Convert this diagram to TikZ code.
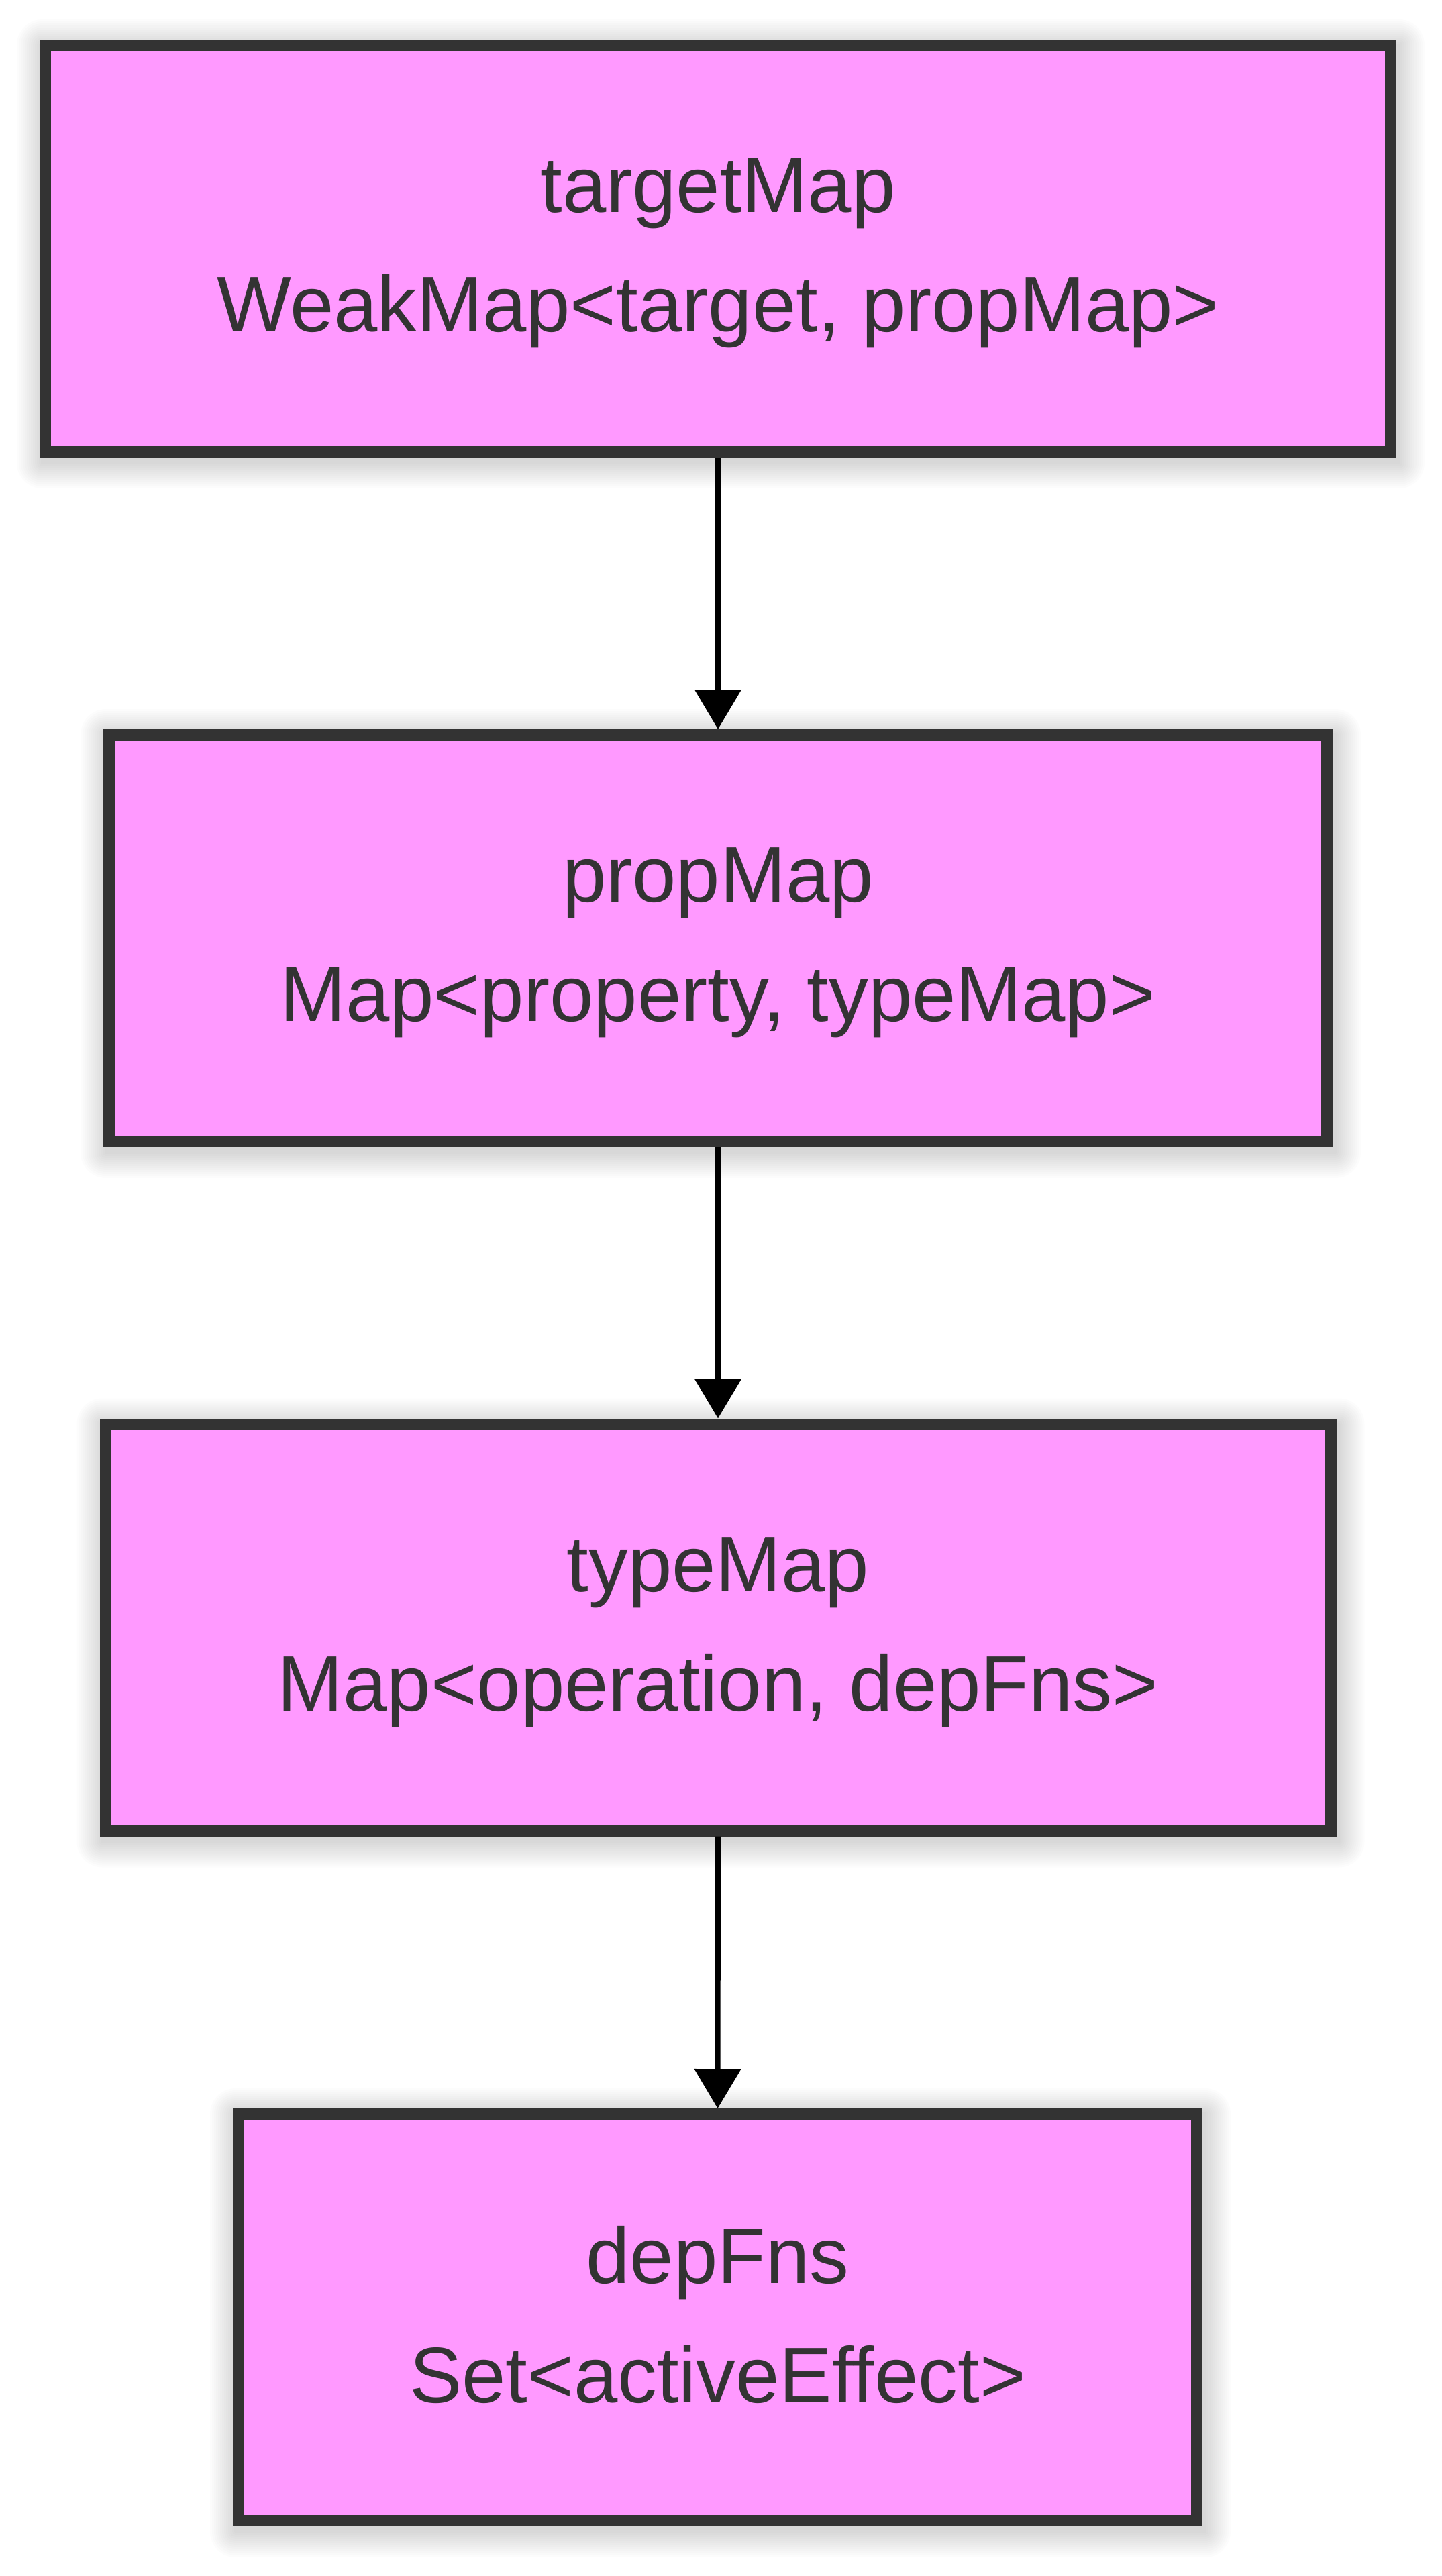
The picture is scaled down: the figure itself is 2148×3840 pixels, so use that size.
\documentclass[tikz,border=0pt]{standalone}
\usepackage{fontspec}
\setmainfont{Liberation Sans}
\usetikzlibrary{arrows.meta,backgrounds}
\definecolor{boxfill}{HTML}{FF99FF}
\definecolor{boxline}{HTML}{333333}
\newcommand{\lnstrut}{\rule[-20pt]{0pt}{115pt}}
\tikzset{
  mapbox/.style={draw=boxline, fill=boxfill, line width=17pt, rectangle,
    minimum height=606pt, text=boxline, align=center, inner sep=0pt,
    font=\fontsize{117.5pt}{178pt}\selectfont},
  shadowlayer/.style={fill=black, fill opacity=0.011},
  link/.style={draw=black, line width=8pt, -{Triangle[length=59pt,width=68pt]}}
}
\begin{document}
\begin{tikzpicture}
\node[mapbox, minimum width=2005pt] (target) at (1070pt,-370.5pt)
  {\lnstrut targetMap\\\lnstrut WeakMap<target, propMap>};
\node[mapbox, minimum width=1815pt] (prop) at (1070pt,-1398.5pt)
  {\lnstrut propMap\\\lnstrut Map<property, typeMap>};
\node[mapbox, minimum width=1826pt] (type) at (1070pt,-2426pt)
  {\lnstrut typeMap\\\lnstrut Map<operation, depFns>};
\node[mapbox, minimum width=1428pt] (dep) at (1069.5pt,-3454.5pt)
  {\lnstrut depFns\\\lnstrut Set<activeEffect>};
\draw[link] (target.south) -- (prop.north);
\draw[link] (prop.south) -- (type.north);
\draw[link] (type.south) -- (dep.north);
\begin{scope}[on background layer]
  \path[use as bounding box, fill=white] (0pt,0pt) rectangle (2148pt,-3840pt);
  \foreach \n in {target,prop,type,dep}{
    \foreach \r in {2,5,...,38}{
      \fill[shadowlayer, rounded corners=\r pt]
        ([shift={(-\r pt+4pt,-\r pt-8pt)}]\n.south west) rectangle
        ([shift={(\r pt+4pt,\r pt-8pt)}]\n.north east);
    }
  }
\end{scope}
\end{tikzpicture}
\end{document}
